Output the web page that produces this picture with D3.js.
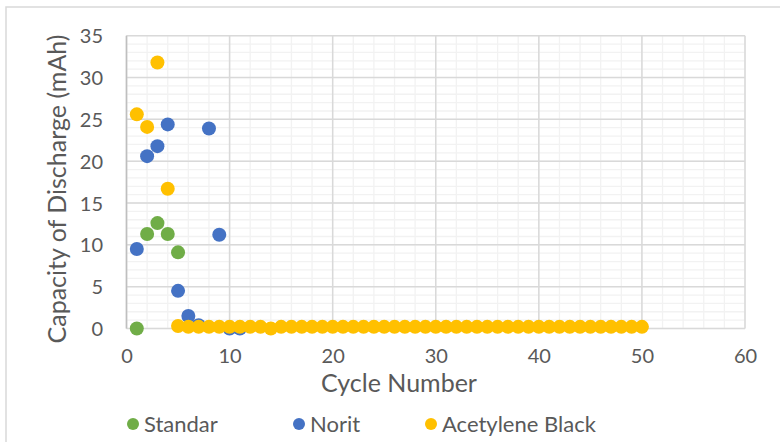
<!DOCTYPE html>
<html>
<head>
<meta charset="utf-8">
<script src="https://cdn.jsdelivr.net/npm/d3@7"></script>
<style>
  html, body { margin: 0; padding: 0; background: #fff; }
  svg { display: block; }
  text { font-family: Lato, "Open Sans", sans-serif; fill: #595959; }
</style>
</head>
<body>
<div id="chart"></div>
<script>
// Discharge capacity per cycle for three carbon additives
const standarCycles = [1, 2, 3, 4, 5];
const standarValues = [0, 11.3, 12.6, 11.3, 9.1];

const noritCycles = [1, 2, 3, 4, 5, 6, 7, 8, 9, 10, 11];
const noritValues = [9.5, 20.6, 21.8, 24.4, 4.5, 1.5, 0.4, 23.9, 11.2, 0.0, 0.0];

const acetyleneCycles = [
  1, 2, 3, 4, 5, 6, 7, 8, 9, 10,
  11, 12, 13, 14, 15, 16, 17, 18, 19, 20,
  21, 22, 23, 24, 25, 26, 27, 28, 29, 30,
  31, 32, 33, 34, 35, 36, 37, 38, 39, 40,
  41, 42, 43, 44, 45, 46, 47, 48, 49, 50
];
const acetyleneValues = [
  25.6, 24.1, 31.8, 16.7, 0.3, 0.2, 0.2, 0.2, 0.2, 0.2,
  0.2, 0.2, 0.2, 0.0, 0.2, 0.2, 0.2, 0.2, 0.2, 0.2,
  0.2, 0.2, 0.2, 0.2, 0.2, 0.2, 0.2, 0.2, 0.2, 0.2,
  0.2, 0.2, 0.2, 0.2, 0.2, 0.2, 0.2, 0.2, 0.2, 0.2,
  0.2, 0.2, 0.2, 0.2, 0.2, 0.2, 0.2, 0.2, 0.2, 0.2
];

const seriesNames = ["Standar", "Norit", "Acetylene Black"];
const seriesColors = ["#70AD47", "#4472C4", "#FFC000"];
const xTicks = [0, 10, 20, 30, 40, 50, 60];
const yTicks = [0, 5, 10, 15, 20, 25, 30, 35];

const W = 780, H = 442;
const plot = { left: 126.5, right: 745, top: 35.7, bottom: 328.5 };

const svg = d3.select("#chart").append("svg")
  .attr("width", W).attr("height", H);

// chart frame
svg.append("path")
  .attr("d", `M6,${H} L6,7 L${W},7`)
  .attr("fill", "none").attr("stroke", "#D9D9D9").attr("stroke-width", 1.5);

const x = d3.scaleLinear().domain([0, 60]).range([plot.left, plot.right]);
const y = d3.scaleLinear().domain([0, 35]).range([plot.bottom, plot.top]);

const grid = svg.append("g");

// minor gridlines
grid.selectAll(".ymin").data(d3.range(0, 36, 1)).join("line")
  .attr("x1", plot.left).attr("x2", plot.right)
  .attr("y1", d => y(d)).attr("y2", d => y(d))
  .attr("stroke", "#F2F2F2").attr("stroke-width", 1.3);
grid.selectAll(".xmin").data(d3.range(0, 61, 2)).join("line")
  .attr("y1", plot.top).attr("y2", plot.bottom)
  .attr("x1", d => x(d)).attr("x2", d => x(d))
  .attr("stroke", "#F2F2F2").attr("stroke-width", 1.3);

// major gridlines
grid.selectAll(".ymaj").data(yTicks).join("line")
  .attr("x1", plot.left).attr("x2", plot.right)
  .attr("y1", d => y(d)).attr("y2", d => y(d))
  .attr("stroke", "#D9D9D9").attr("stroke-width", 1.5);
grid.selectAll(".xmaj").data(xTicks).join("line")
  .attr("y1", plot.top).attr("y2", plot.bottom)
  .attr("x1", d => x(d)).attr("x2", d => x(d))
  .attr("stroke", "#D9D9D9").attr("stroke-width", 1.5);

// value axis line
svg.append("line")
  .attr("x1", plot.left).attr("x2", plot.left)
  .attr("y1", plot.top).attr("y2", plot.bottom)
  .attr("stroke", "#BFBFBF").attr("stroke-width", 1.5);

// axes (labels only)
const yAxis = d3.axisLeft(y).tickValues(yTicks).tickSize(0).tickPadding(0);
const yg = svg.append("g").attr("transform", `translate(103,0)`).call(yAxis);
yg.select(".domain").remove();
yg.selectAll("text").attr("font-size", 20).attr("fill", "#595959")
  .attr("font-family", "Lato, 'Open Sans', sans-serif").attr("dy", "0.35em");

const xAxis = d3.axisBottom(x).tickValues(xTicks).tickSize(0).tickPadding(0);
const xg = svg.append("g").attr("transform", `translate(0,${plot.bottom + 22})`).call(xAxis);
xg.select(".domain").remove();
xg.selectAll("text").attr("font-size", 20).attr("fill", "#595959")
  .attr("font-family", "Lato, 'Open Sans', sans-serif").attr("dy", "0.6em");

// axis titles
svg.append("text")
  .attr("x", 399).attr("y", 392)
  .attr("text-anchor", "middle").attr("font-size", 25)
  .text("Cycle Number");
svg.append("text")
  .attr("transform", "translate(66,189) rotate(-90)")
  .attr("text-anchor", "middle").attr("font-size", 25)
  .text("Capacity of Discharge (mAh)");

// markers
const series = [
  { cycles: standarCycles, values: standarValues },
  { cycles: noritCycles, values: noritValues },
  { cycles: acetyleneCycles, values: acetyleneValues }
];
series.forEach((s, i) => {
  svg.append("g").selectAll("circle")
    .data(s.cycles.map((c, j) => [c, s.values[j]]))
    .join("circle")
    .attr("cx", d => x(d[0]))
    .attr("cy", d => y(d[1]))
    .attr("r", 7)
    .attr("fill", seriesColors[i]);
});

// legend
const legendX = [133, 299, 431];
const leg = svg.append("g");
seriesNames.forEach((name, i) => {
  leg.append("circle").attr("cx", legendX[i]).attr("cy", 424).attr("r", 6)
    .attr("fill", seriesColors[i]);
  leg.append("text").attr("x", legendX[i] + 11).attr("y", 432)
    .attr("font-size", 22).text(name);
});
</script>
</body>
</html>
